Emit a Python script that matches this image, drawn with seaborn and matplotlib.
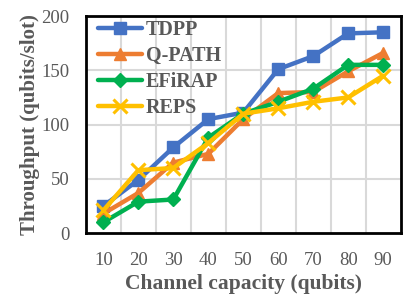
import matplotlib
matplotlib.use("Agg")
import matplotlib.pyplot as plt
import seaborn as sns
import pandas as pd
import numpy as np

# channel capacity (qubits)
capacity = [10, 20, 30, 40, 50, 60, 70, 80, 90]

# throughput (qubits/slot)
tdpp = [25, 49, 79, 105, 111, 151, 163, 184, 185]
qpath = [18, 37, 65, 73, 105, 129, 130, 149, 166]
efirap = [10, 29, 31, 88, 110, 121, 133, 155, 155]
reps = [21, 58, 60, 83, 110, 115, 121, 125, 145]

names = ["TDPP", "Q-PATH", "EFiRAP", "REPS"]
series = [tdpp, qpath, efirap, reps]
colors = ["#4472C4", "#ED7D31", "#00B050", "#FFC000"]
markers = ["s", "^", "D", "x"]
msizes = [8.5, 9, 7.5, 9.5]

df = pd.DataFrame({
    "capacity": np.tile(capacity, len(names)),
    "throughput": np.concatenate(series),
    "method": np.repeat(names, len(capacity)),
})

sns.set_style("white")
plt.rcParams["font.family"] = ["Liberation Serif", "DejaVu Serif"]
gray = "#595959"

fig = plt.figure(figsize=(4.13, 3.02), dpi=100)
ax = fig.add_axes([0.208, 0.228, 0.762, 0.719])

for name, c, m, ms in zip(names, colors, markers, msizes):
    sub = df[df["method"] == name]
    sns.lineplot(data=sub, x="capacity", y="throughput", ax=ax, color=c,
                 marker=m, markersize=ms, linewidth=3.2, label=name,
                 markeredgecolor=c, markeredgewidth=2.2 if m == "x" else 1)

ax.set_xlim(5, 95)
ax.set_ylim(0, 200)
ax.set_xticks(capacity)
ax.set_xticks(np.arange(15, 90, 10), minor=True)
ax.set_yticks([0, 50, 100, 150, 200])
ax.set_yticks(np.arange(0, 201, 10), minor=True)

ax.grid(False)
for x in np.arange(15, 90, 10):
    ax.axvline(x, color="#d9d9d9", lw=1.5, zorder=0)
for y in [50, 100, 150]:
    ax.axhline(y, color="#d9d9d9", lw=1.5, zorder=0)

ax.tick_params(axis="both", which="major", direction="in", length=4, width=1.5,
               labelsize=13.5, labelcolor=gray, color="black")
ax.tick_params(axis="both", which="minor", direction="in", length=4, width=1.5,
               color="black")
ax.tick_params(axis="x", which="major", pad=13.5)
ax.tick_params(axis="y", which="major", pad=12)

for s in ax.spines.values():
    s.set_visible(True)
    s.set_color("black")
    s.set_linewidth(2)

ax.set_xlabel("Channel capacity (qubits)", fontsize=15.5, fontweight="bold",
              color=gray, labelpad=4)
ax.set_ylabel("Throughput (qubits/slot)", fontsize=15, fontweight="bold",
              color=gray, labelpad=1)

leg = ax.legend(loc="upper left", frameon=False, prop={"size": 14.5, "weight": "bold"},
                handlelength=2.2, handletextpad=0.2, labelspacing=0.3,
                borderaxespad=0.2, borderpad=0.3, bbox_to_anchor=(0.005, 1.03))
for t in leg.get_texts():
    t.set_color(gray)

fig.savefig("out.png", dpi=100)
